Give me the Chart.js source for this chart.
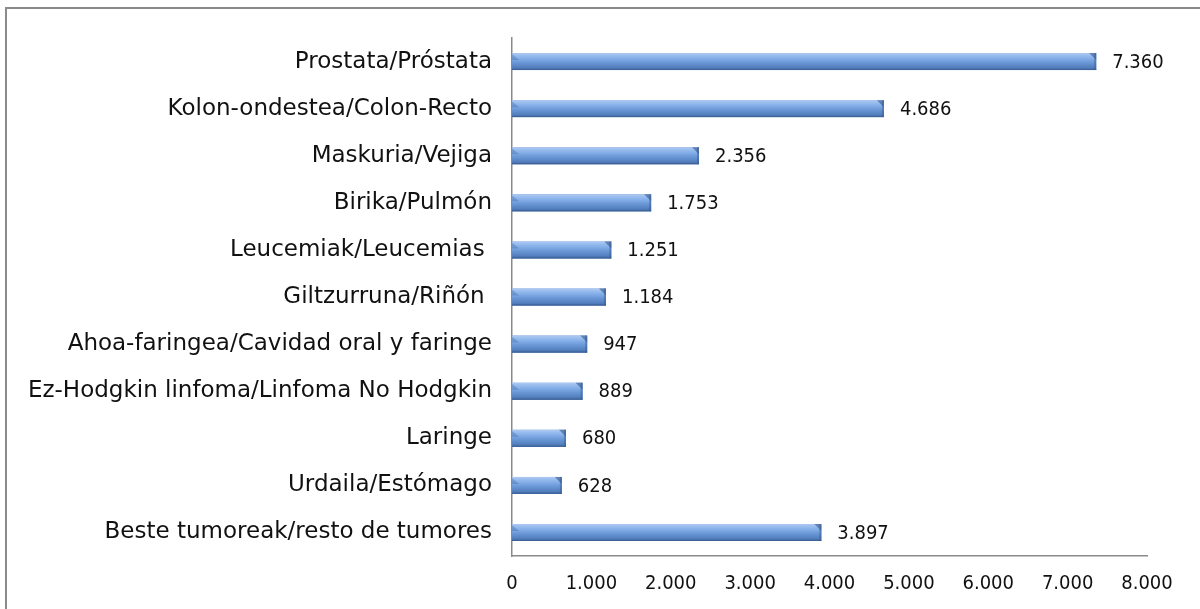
<!DOCTYPE html>
<html>
<head>
<meta charset="utf-8">
<script src="https://cdn.jsdelivr.net/npm/chart.js@4.4.1/dist/chart.umd.min.js"></script>
<style>
  html, body { margin: 0; padding: 0; overflow: hidden; background: #ffffff; }
  #wrap { position: relative; width: 1200px; height: 609px; overflow: hidden; }
  #frame { position: absolute; left: 5px; top: 7px; width: 1400px; height: 800px; border: 2px solid #8a8a8a; box-sizing: border-box; }
  canvas { position: absolute; left: 0; top: 0; }
</style>
</head>
<body>
<div id="wrap">
  <div id="frame"></div>
  <canvas id="c" width="1200" height="609"></canvas>
</div>
<script>
const categories = [
  "Prostata/Próstata",
  "Kolon-ondestea/Colon-Recto",
  "Maskuria/Vejiga",
  "Birika/Pulmón",
  "Leucemiak/Leucemias ",
  "Giltzurruna/Riñón ",
  "Ahoa-faringea/Cavidad oral y faringe",
  "Ez-Hodgkin linfoma/Linfoma No Hodgkin",
  "Laringe",
  "Urdaila/Estómago",
  "Beste tumoreak/resto de tumores"
];
const values = [7360, 4686, 2356, 1753, 1251, 1184, 947, 889, 680, 628, 3897];
const xMin = 0, xMax = 8000, xStep = 1000;

const labelFont = "DejaVu Sans";
const numFont = "'DejaVu Sans Condensed', 'DejaVu Sans'";

function fmt(v) {
  return String(Math.round(v)).replace(/\B(?=(\d{3})+(?!\d))/g, ".");
}

const bevelBars = {
  id: 'bevelBars',
  afterDatasetsDraw(chart) {
    const ctx = chart.ctx;
    const meta = chart.getDatasetMeta(0);
    ctx.save();
    meta.data.forEach((el, i) => {
      const p = el.getProps(['x', 'y', 'base', 'height'], true);
      const top = p.y - p.height / 2, bot = p.y + p.height / 2;
      const l = Math.min(p.base, p.x), r = Math.max(p.base, p.x);
      const h = bot - top;
      const g = ctx.createLinearGradient(0, top, 0, bot);
      g.addColorStop(0, '#b2cbee');
      g.addColorStop(0.1, '#9fc1f0');
      g.addColorStop(0.3, '#86b0e9');
      g.addColorStop(0.55, '#6b98d7');
      g.addColorStop(0.85, '#537fbe');
      g.addColorStop(1, '#41679f');
      ctx.fillStyle = g;
      ctx.fillRect(l, top, r - l, h);
      const b = Math.min(7, (r - l) / 3);
      // right bevel
      ctx.fillStyle = 'rgba(52,86,140,0.6)';
      ctx.beginPath();
      ctx.moveTo(r - b, top);
      ctx.lineTo(r, top);
      ctx.lineTo(r, top + b);
      ctx.closePath();
      ctx.fill();
      ctx.fillStyle = 'rgba(52,86,140,0.45)';
      ctx.fillRect(r - 2, top, 2, h);
      // left bevel (subtle)
      ctx.fillStyle = 'rgba(52,86,140,0.3)';
      ctx.beginPath();
      ctx.moveTo(l, top + 1);
      ctx.lineTo(l + b, top + b);
      ctx.lineTo(l, top + b);
      ctx.closePath();
      ctx.fill();
      // bottom edge
      ctx.fillStyle = '#3d6298';
      ctx.fillRect(l, bot - 1, r - l, 1);
      // value label
      ctx.fillStyle = '#111111';
      ctx.font = "20px " + numFont;
      ctx.textAlign = 'left';
      ctx.textBaseline = 'middle';
      ctx.fillText(fmt(values[i]), r + 16, p.y + 1);
    });
    ctx.restore();
  }
};

new Chart(document.getElementById('c'), {
  type: 'bar',
  data: {
    labels: categories,
    datasets: [{
      data: values,
      backgroundColor: '#6c9ada',
      borderWidth: 0,
      categoryPercentage: 1.0,
      barPercentage: 0.36
    }]
  },
  options: {
    indexAxis: 'y',
    responsive: false,
    animation: false,
    devicePixelRatio: 1,
    layout: { padding: { top: 38, right: 53, left: 0, bottom: 0 } },
    plugins: { legend: { display: false }, tooltip: { enabled: false } },
    scales: {
      x: {
        min: xMin, max: xMax,
        ticks: {
          stepSize: xStep,
          color: '#111111',
          font: { family: numFont, size: 20 },
          padding: 16,
          maxRotation: 0,
          callback: (v) => fmt(v)
        },
        grid: { display: false, drawTicks: false },
        border: { display: true, color: '#8a8a8a', width: 1.5 },
        afterFit: (s) => { s.height = 53; }
      },
      y: {
        ticks: {
          color: '#111111',
          font: { family: labelFont, size: 23 },
          padding: 20,
          autoSkip: false
        },
        grid: { display: false, drawTicks: false },
        border: { display: true, color: '#8a8a8a', width: 1.5 },
        afterFit: (s) => { s.width = 512; }
      }
    }
  },
  plugins: [bevelBars]
});
</script>
</body>
</html>
